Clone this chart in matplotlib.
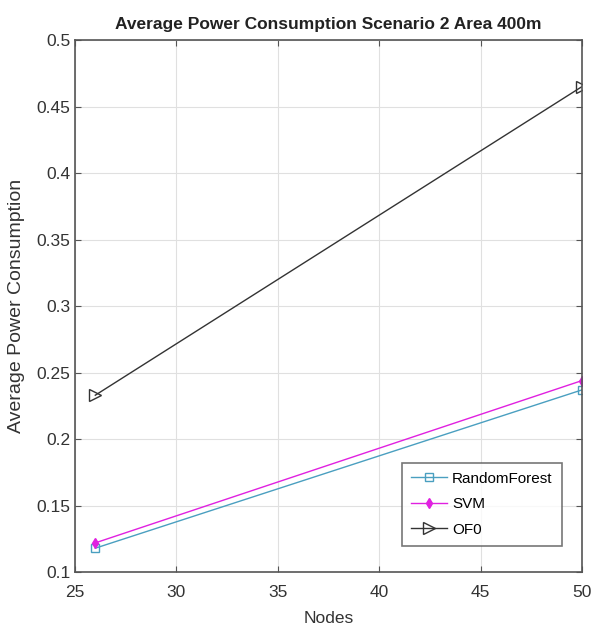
import matplotlib
matplotlib.use("Agg")
import matplotlib.pyplot as plt

plt.rcParams['font.family'] = ['Liberation Sans', 'DejaVu Sans']

nodes = [26, 50]
rf = [0.118, 0.237]
svm = [0.122, 0.244]
of0 = [0.233, 0.465]
xticks = [25, 30, 35, 40, 45, 50]
yticks = [0.1, 0.15, 0.2, 0.25, 0.3, 0.35, 0.4, 0.45, 0.5]

fig = plt.figure(figsize=(5.93, 6.35), dpi=100)
ax = fig.add_axes([0.1265, 0.099, 0.855, 0.838])

ax.plot(nodes, rf, color='#4a9fc0', marker='s', markerfacecolor='none', markersize=6, lw=1.0, label='RandomForest')
ax.plot(nodes, svm, color='#e020e0', marker='d', markersize=5, lw=1.0, label='SVM')
ax.plot(nodes, of0, color='#333333', marker='>', markerfacecolor='none', markersize=8, lw=1.0, label='OF0')

ax.set_xlim(25, 50)
ax.set_ylim(0.1, 0.5)
ax.set_xticks(xticks)
ax.set_xticklabels([str(v) for v in xticks])
ax.set_yticks(yticks)
ax.set_yticklabels(['0.1', '0.15', '0.2', '0.25', '0.3', '0.35', '0.4', '0.45', '0.5'])
ax.grid(True, color='#e0e0e0', lw=0.8)
ax.set_axisbelow(True)
for s in ax.spines.values():
    s.set_color('#555555')
    s.set_linewidth(1.2)
ax.tick_params(direction='in', length=4, color='#555555', labelsize=12.5, labelcolor='#333333', top=True, right=True)
ax.tick_params(axis='x', pad=9)

ax.set_title('Average Power Consumption Scenario 2 Area 400m', fontsize=12.5, fontweight='bold', color='#222222', pad=8)
ax.set_xlabel('Nodes', fontsize=12.5, color='#333333', labelpad=8)
ax.set_ylabel('Average Power Consumption', fontsize=14, color='#333333', labelpad=8)

leg = ax.legend(loc='lower right', bbox_to_anchor=(0.975, 0.035), fontsize=11, frameon=True, fancybox=False,
                edgecolor='#555555', handlelength=2.4, handletextpad=0.3, borderpad=0.6, labelspacing=0.75)
leg.get_frame().set_linewidth(1.2)

fig.savefig('out.png', dpi=100)
